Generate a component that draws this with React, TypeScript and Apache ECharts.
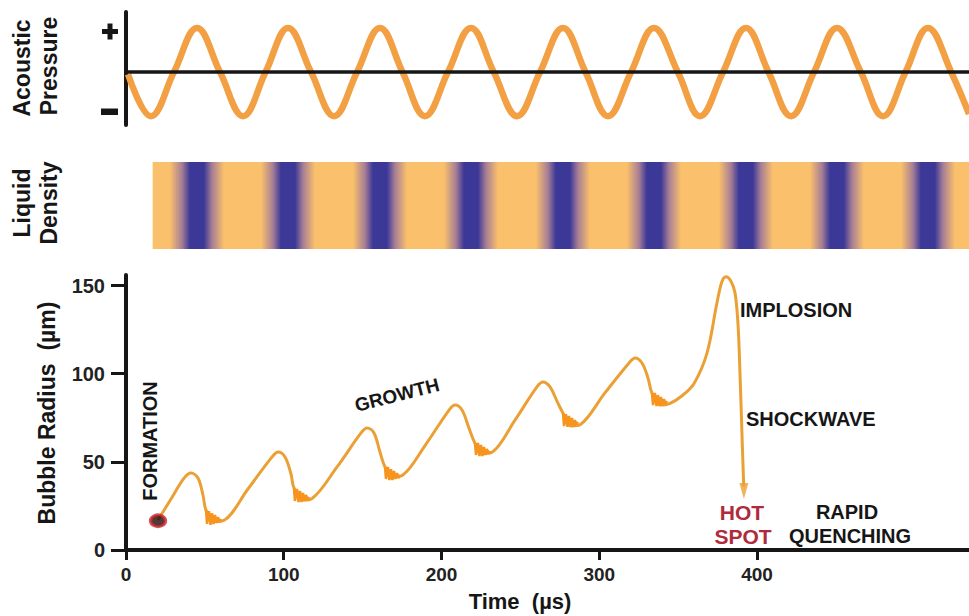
import React, { useEffect, useRef } from "react";
import * as echarts from "echarts";

const FONT = '"Liberation Sans", Arial, Helvetica, sans-serif';
const TIME_MAX = 534.4;

// Acoustic pressure (normalised): read at extremes and zero crossings
const pressureTime = [1.3, 15.8, 30.4, 45.0, 59.6, 74.2, 88.5, 102.7, 117.3, 131.9, 146.5, 161.0, 175.3, 189.5, 204.1, 218.7, 233.1, 247.9, 262.5, 277.0, 291.3, 305.6, 320.2, 334.7, 349.8, 363.9, 378.5, 393.0, 407.3, 421.6, 436.2, 450.7, 465.8, 479.9, 494.2, 508.4, 523.1, 534.4];
const pressureValue = [-0.05, -1, 0, 1, 0, -1, 0, 1, 0, -1, 0, 1, 0, -1, 0, 1, 0, -1, 0, 1, 0, -1, 0, 1, 0, -1, 0, 1, 0, -1, 0, 1, 0, -1, 0, 1, 0, -0.95];

// Liquid density: band starts here, dense (blue) at pressure maxima
const densityStartTime = 16.9;
const densityPeakTime = [45.0, 102.7, 161.0, 218.7, 277.0, 334.7, 393.0, 450.7, 508.4];

// Bubble radius main curve (µs, µm)
const radiusTime = [
  20.3, 28.5, 36.8, 41.2, 45.6, 48.8, 50.7, 56.5, 62.0,
  77.3, 92.6, 96.4, 100.8, 104.6, 106.5, 112.5, 118.0,
  133.8, 149.0, 152.8, 157.2, 161.0, 164.2, 169.8, 175.3,
  190.2, 204.8, 208.6, 213.0, 217.4, 221.2, 226.8, 232.3,
  246.6, 260.5, 264.3, 268.8, 273.2, 277.0, 282.6, 288.1,
  303.6, 318.9, 322.7, 327.1, 330.9, 333.4, 339.0, 344.5,
  352.5, 360.1, 368.3, 374.6, 377.7, 380.3, 383.5, 386.1, 388.0, 389.3, 390.6, 391.6,
];
const radiusValue = [
  17.0, 28.9, 40.8, 43.7, 40.8, 31.2, 22.7, 16.2, 16.8,
  34.6, 52.8, 55.6, 52.8, 43.1, 35.2, 28.3, 29.2,
  47.1, 66.4, 69.2, 66.4, 55.6, 47.1, 41.6, 42.4,
  60.1, 79.4, 82.2, 79.4, 69.2, 60.7, 54.8, 55.6,
  73.7, 92.5, 95.3, 92.5, 84.5, 77.7, 70.4, 71.2,
  89.1, 106.1, 108.9, 106.1, 97.6, 89.1, 82.2, 83.0,
  87.5, 94.5, 111.7, 140.1, 152.0, 155.0, 152.5, 145.8, 127.6, 98.1, 62.4, 36.0,
];

// Ringing after each collapse
const ringingTime = [
  [50.7, 51.4, 52.6, 53.6, 54.5, 55.5, 56.4, 57.4, 58.3, 59.3, 60.2],
  [106.5, 107.1, 108.4, 109.4, 110.3, 111.3, 112.2, 113.2, 114.1, 115.1, 116.0],
  [164.2, 164.8, 166.1, 167.0, 168.0, 168.9, 169.9, 170.8, 171.8, 172.7, 173.7],
  [221.2, 221.9, 223.1, 224.1, 225.0, 226.0, 226.9, 227.9, 228.8, 229.8, 230.7],
  [277.0, 277.7, 278.9, 279.9, 280.8, 281.8, 282.7, 283.7, 284.6, 285.6, 286.5],
  [333.4, 334.1, 335.3, 336.3, 337.2, 338.2, 339.1, 340.1, 341.0, 342.0, 342.9],
];
const ringingValue = [
  [22.7, 14.8, 22.1, 14.2, 20.9, 14.7, 19.9, 15.3, 18.7, 15.9, 17.6],
  [35.2, 27.8, 34.6, 27.2, 33.5, 27.2, 32.3, 27.8, 31.2, 28.4, 30.1],
  [47.1, 40.3, 47.1, 39.7, 45.9, 39.7, 44.8, 40.3, 43.7, 40.8, 42.5],
  [60.7, 53.9, 60.7, 53.3, 59.6, 53.3, 58.4, 53.9, 57.3, 54.5, 56.2],
  [77.7, 70.3, 77.1, 69.8, 76.0, 69.8, 74.9, 70.3, 73.7, 70.9, 72.6],
  [89.1, 82.2, 89.1, 81.7, 87.9, 81.7, 86.8, 82.2, 85.6, 82.8, 84.5],
];

const formationPoint = [20.3, 16.6];
const shockwaveArrow = [391.7, 33.5];

const xTickValues = [0, 100, 200, 300, 400];
const yTickValues = [0, 50, 100, 150];

const ORANGE_WAVE = "#F2A043";
const ORANGE_CURVE = "#EBA035";
const ORANGE_RING = "#F7941D";
const DENS_ORANGE = "#FAC06C";
const DENS_MID = "#A67E95";
const DENS_BLUE = "#3C3897";
const INK = "#161616";

function zip(a: number[], b: number[]) {
  return a.map((v, i) => [v, b[i]]);
}

function txt(text: string, x: number, y: number, size: number, opts: any = {}) {
  return {
    type: "text",
    x,
    y,
    rotation: opts.rotation || 0,
    z: 20,
    style: {
      text,
      fill: opts.color || INK,
      font: `${opts.weight || "bold"} ${size}px ${FONT}`,
      align: opts.align || "center",
      verticalAlign: "middle",
      textAlign: opts.align || "center",
      textVerticalAlign: "middle",
    },
  };
}

export default function App() {
  const ref = useRef<HTMLDivElement>(null);

  useEffect(() => {
    const chart = echarts.init(ref.current!, null, { renderer: "svg" });

    const axisLine = { show: true, onZero: true, lineStyle: { color: INK, width: 4 } };

    const option: any = {
      animation: false,
      backgroundColor: "#ffffff",
      grid: [
        { left: 126, top: 12, width: 843, height: 113 },
        { left: 126, top: 162, width: 843, height: 87 },
        { left: 126, top: 275, width: 843, height: 275 },
      ],
      xAxis: [
        {
          gridIndex: 0, type: "value", min: 0, max: TIME_MAX, z: 5,
          axisLine: { show: true, onZero: true, lineStyle: { color: INK, width: 3.5 } },
          axisTick: { show: false }, axisLabel: { show: false }, splitLine: { show: false },
        },
        { gridIndex: 1, type: "value", min: 0, max: TIME_MAX, show: false },
        {
          gridIndex: 2, type: "value", min: 0, max: TIME_MAX,
          axisLine,
          axisTick: { show: true, length: 10, lineStyle: { color: INK, width: 3 }, customValues: xTickValues },
          axisLabel: {
            show: true, customValues: xTickValues, margin: 15,
            fontSize: 19, fontWeight: "bold", fontFamily: FONT, color: "#222",
          },
          splitLine: { show: false },
        },
      ],
      yAxis: [
        {
          gridIndex: 0, type: "value", min: -1.2, max: 1.36,
          axisLine, axisTick: { show: false }, axisLabel: { show: false }, splitLine: { show: false },
        },
        { gridIndex: 1, type: "value", min: 0, max: 1, show: false },
        {
          gridIndex: 2, type: "value", min: 0, max: 156,
          axisLine,
          axisTick: { show: true, length: 15, lineStyle: { color: INK, width: 3 }, customValues: yTickValues },
          axisLabel: {
            show: true, customValues: yTickValues, margin: 21,
            fontSize: 20, fontWeight: "bold", fontFamily: FONT, color: "#222",
          },
          splitLine: { show: false },
        },
      ],
      series: [
        {
          type: "line", xAxisIndex: 0, yAxisIndex: 0,
          data: zip(pressureTime, pressureValue),
          smooth: 0.4, symbol: "none", clip: false,
          lineStyle: { color: ORANGE_WAVE, width: 6.5 },
          z: 2,
        },
        {
          type: "custom", xAxisIndex: 1, yAxisIndex: 1,
          data: [[densityStartTime, TIME_MAX]],
          encode: { x: [0, 1] },
          clip: false,
          renderItem: (params: any, api: any) => {
            const p0 = api.coord([api.value(0), 1]);
            const p1 = api.coord([api.value(1), 0]);
            const x0 = p0[0];
            const w = p1[0] - x0;
            const stops: any[] = [{ offset: 0, color: DENS_ORANGE }];
            const profile: [number, string][] = [
              [-27, DENS_ORANGE], [-15, DENS_MID], [-7, DENS_BLUE],
              [7, DENS_BLUE], [15, DENS_MID], [27, DENS_ORANGE],
            ];
            densityPeakTime.forEach((t) => {
              const px = api.coord([t, 0])[0];
              profile.forEach(([d, c]) => {
                const off = (px + d - x0) / w;
                if (off > 0 && off < 1) stops.push({ offset: off, color: c });
              });
            });
            stops.push({ offset: 1, color: DENS_ORANGE });
            return {
              type: "rect",
              shape: { x: x0, y: p0[1], width: w, height: p1[1] - p0[1] },
              style: { fill: new echarts.graphic.LinearGradient(0, 0, 1, 0, stops) },
            };
          },
        },
        {
          type: "line", xAxisIndex: 2, yAxisIndex: 2,
          data: zip(radiusTime, radiusValue),
          smooth: 0.35, symbol: "none", clip: false,
          lineStyle: { color: ORANGE_CURVE, width: 3 },
          z: 3,
        },
        ...ringingTime.map((ts, i) => ({
          type: "line", xAxisIndex: 2, yAxisIndex: 2,
          data: zip(ts, ringingValue[i]),
          smooth: false, symbol: "none", clip: false,
          lineStyle: { color: ORANGE_RING, width: 2.5 },
          z: 3,
        })),
        {
          type: "scatter", xAxisIndex: 2, yAxisIndex: 2,
          data: [shockwaveArrow],
          symbol: "triangle", symbolSize: [9, 16], symbolRotate: 180,
          itemStyle: { color: ORANGE_CURVE },
          z: 4,
        },
        {
          type: "scatter", xAxisIndex: 2, yAxisIndex: 2,
          data: [formationPoint],
          symbol: "circle", symbolSize: [15, 12],
          itemStyle: { color: "#2a0606", borderColor: "#cf2a32", borderWidth: 3 },
          z: 5,
        },
      ],
      graphic: [
        // + / - marks on the pressure axis
        { type: "rect", shape: { x: 102, y: 29, width: 16, height: 5 }, style: { fill: INK } },
        { type: "rect", shape: { x: 107.5, y: 23.5, width: 5, height: 16 }, style: { fill: INK } },
        { type: "rect", shape: { x: 101, y: 108.5, width: 17, height: 6.5 }, style: { fill: INK } },
        txt("Acoustic", 22, 68, 23, { rotation: Math.PI / 2 }),
        txt("Pressure", 49, 66, 23, { rotation: Math.PI / 2 }),
        txt("Liquid", 22, 203, 23, { rotation: Math.PI / 2 }),
        txt("Density", 49, 203, 23, { rotation: Math.PI / 2 }),
        txt("Bubble Radius  (µm)", 47, 413, 23, { rotation: Math.PI / 2 }),
        txt("Time  (µs)", 520, 601, 22),
        txt("FORMATION", 150, 441, 20, { rotation: Math.PI / 2 }),
        txt("GROWTH", 397, 395, 19, { rotation: 0.25 }),
        txt("IMPLOSION", 740, 310, 20, { align: "left" }),
        txt("SHOCKWAVE", 746, 419, 20, { align: "left" }),
        txt("HOT", 742, 512, 21, { color: "#B02A3C" }),
        txt("SPOT", 743, 536, 21, { color: "#B02A3C" }),
        txt("RAPID", 847, 512, 20),
        txt("QUENCHING", 850, 536, 20),
      ],
    };

    chart.setOption(option);
    return () => chart.dispose();
  }, []);

  return (
    <div
      ref={ref}
      style={{ position: "fixed", left: 0, top: 0, width: 969, height: 616, background: "#fff" }}
    />
  );
}
